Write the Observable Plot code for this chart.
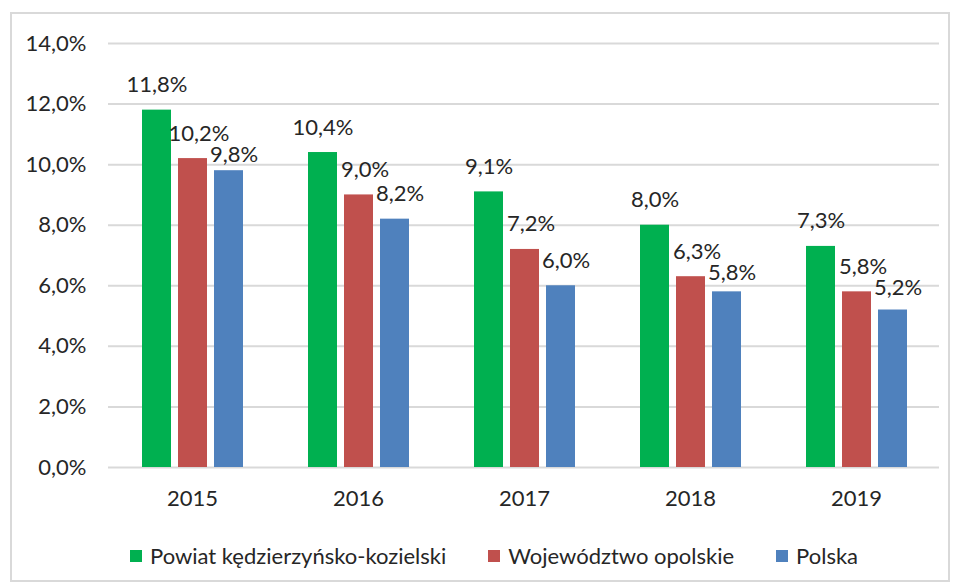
<!DOCTYPE html>
<html>
<head>
<meta charset="utf-8">
<script src="https://cdn.jsdelivr.net/npm/d3@7"></script>
<script src="https://cdn.jsdelivr.net/npm/@observablehq/plot@0.6"></script>
<style>
  body { margin: 0; background: #fff; font-family: Lato, "Open Sans", sans-serif; }
  #frame { position: absolute; left: 10px; top: 12px; width: 940px; height: 570px; border: 2px solid #d9d9d9; box-sizing: border-box; }
  #grid, #chart { position: absolute; left: 0; top: 0; }
  #legend { position: absolute; left: 118px; top: 528px; display: flex; gap: 42px; font-size: 22px; color: #262626; }
  .item { display: flex; align-items: center; }
  .sw { width: 12px; height: 12px; margin-right: 8px; }
</style>
</head>
<body>
<div id="frame">
  <div id="grid"></div>
  <div id="chart"></div>
  <div id="legend"></div>
</div>
<script>
const years = ["2015", "2016", "2017", "2018", "2019"];
const series = ["Powiat kędzierzyńsko-kozielski", "Województwo opolskie", "Polska"];
const colors = ["#00B050", "#C0504D", "#4F81BD"];
const powiat = [11.8, 10.4, 9.1, 8.0, 7.3];
const wojewodztwo = [10.2, 9.0, 7.2, 6.3, 5.8];
const polska = [9.8, 8.2, 6.0, 5.8, 5.2];
const yTicks = [0, 2, 4, 6, 8, 10, 12, 14];
const labelShift = [0, 6, 5];

const valuesBySeries = [powiat, wojewodztwo, polska];
const data = [];
years.forEach((yr, i) => {
  series.forEach((s, j) => data.push({year: yr, series: s, value: valuesBySeries[j][i]}));
});
const fmt = v => v.toFixed(1).replace(".", ",") + "%";

const dims = {width: 936, height: 496, marginLeft: 96, marginRight: 9, marginTop: 29, marginBottom: 43};
const fontStyle = {fontFamily: "Lato, 'Open Sans', sans-serif", fontSize: "22px", color: "#262626", background: "transparent"};

const gridPlot = Plot.plot({
  ...dims,
  style: fontStyle,
  x: {axis: null},
  y: {domain: [0, 14], ticks: yTicks, tickFormat: d => fmt(d), tickSize: 0, tickPadding: 22, label: null},
  marks: [Plot.ruleY(yTicks, {stroke: "#d9d9d9", strokeWidth: 2})]
});
document.getElementById("grid").appendChild(gridPlot);

const textMarks = labelShift.map((sh, j) =>
  Plot.text(data.filter(d => d.series === series[j]), {
    fx: "year", x: "series", y: "value", text: d => fmt(d.value),
    dy: -25, dx: sh, fontSize: 22, fill: "#262626"
  })
);

const chart = Plot.plot({
  ...dims,
  style: fontStyle,
  fx: {domain: years, paddingInner: 0.388, paddingOuter: 0.194, label: null, axis: "bottom", tickSize: 0, tickPadding: 23},
  x: {domain: series, paddingInner: 0.2, paddingOuter: 0, axis: null},
  y: {domain: [0, 14], axis: null},
  color: {domain: series, range: colors},
  marks: [
    Plot.barY(data, {fx: "year", x: "series", y: "value", fill: "series"}),
    ...textMarks
  ]
});
document.getElementById("chart").appendChild(chart);

// simple label collision avoidance (as the spreadsheet does): push a later label down
const minSep = 21;
const allTexts = Array.from(chart.querySelectorAll("text")).filter(t => /%$/.test(t.textContent));
const groups = new Map();
allTexts.forEach(t => {
  const r = t.getBoundingClientRect();
  const cx = (r.left + r.right) / 2;
  const step = 833 / years.length;
  const slot = Math.floor((cx - 108) / step);
  if (!groups.has(slot)) groups.set(slot, []);
  groups.get(slot).push(t);
});
groups.forEach(list => {
  list.sort((p, q) => p.getBoundingClientRect().left - q.getBoundingClientRect().left);
  for (let k = 1; k < list.length; k++) {
    const a = list[k - 1].getBoundingClientRect();
    const b = list[k].getBoundingClientRect();
    const sep = b.top - a.top;
    if (a.right > b.left + 2 && sep < minSep) {
      const shift = minSep - sep;
      const t = list[k].getAttribute("transform") || "";
      list[k].setAttribute("transform", (t + ` translate(0,${shift})`).trim());
    }
  }
});

const legend = document.getElementById("legend");
series.forEach((s, j) => {
  const it = document.createElement("div");
  it.className = "item";
  const sw = document.createElement("div");
  sw.className = "sw";
  sw.style.background = colors[j];
  const tx = document.createElement("span");
  tx.textContent = s;
  it.appendChild(sw);
  it.appendChild(tx);
  legend.appendChild(it);
});
</script>
</body>
</html>
